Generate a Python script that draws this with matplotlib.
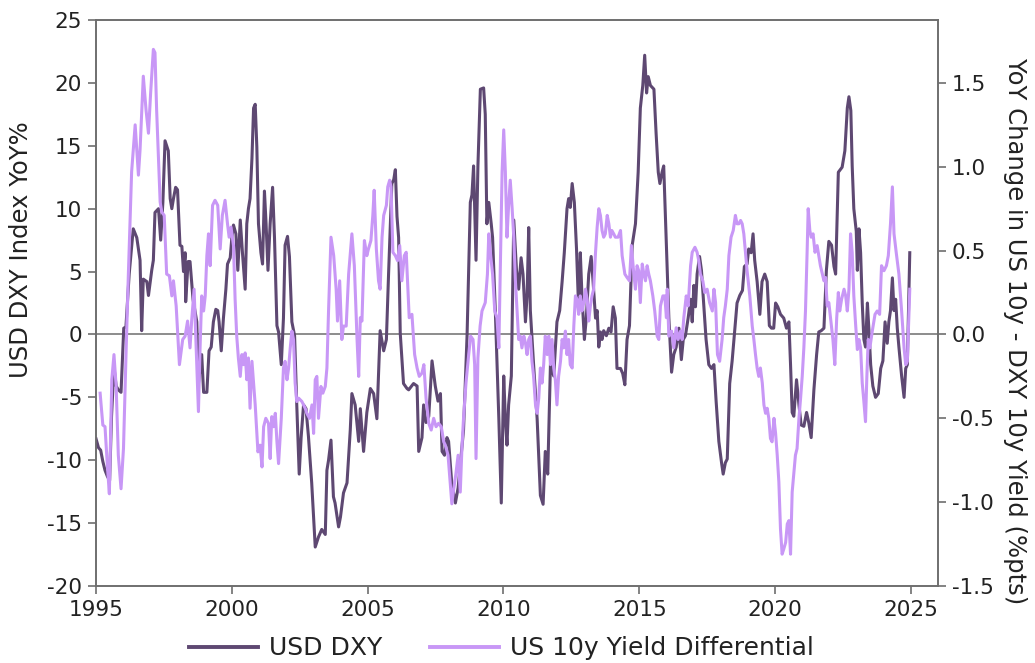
import matplotlib
matplotlib.use("Agg")
import matplotlib.pyplot as plt
import numpy as np

# USD DXY index, year-on-year % change (decimal year, value)
dxy_years = [
    1995.00, 1995.09, 1995.17, 1995.25, 1995.33, 1995.42, 1995.50, 1995.57, 1995.66, 1995.74,
    1995.82, 1995.92, 1996.02, 1996.10, 1996.22, 1996.37, 1996.50, 1996.62, 1996.68, 1996.74,
    1996.87, 1996.93, 1997.05, 1997.11, 1997.17, 1997.30, 1997.38, 1997.46, 1997.54, 1997.66,
    1997.73, 1997.79, 1997.85, 1997.93, 1998.00, 1998.09, 1998.16, 1998.22, 1998.28, 1998.30,
    1998.39, 1998.46, 1998.57, 1998.71, 1998.77, 1998.89, 1998.96, 1999.08, 1999.16, 1999.24,
    1999.32, 1999.41, 1999.48, 1999.53, 1999.61, 1999.69, 1999.78, 1999.84, 1999.94, 2000.00,
    2000.06, 2000.15, 2000.22, 2000.31, 2000.39, 2000.49, 2000.55, 2000.61, 2000.67, 2000.74,
    2000.80, 2000.86, 2000.92, 2000.98, 2001.07, 2001.13, 2001.20, 2001.26, 2001.33, 2001.41,
    2001.50, 2001.57, 2001.66, 2001.72, 2001.82, 2001.90, 2001.96, 2002.05, 2002.12, 2002.21,
    2002.31, 2002.39, 2002.48, 2002.55, 2002.64, 2002.73, 2002.82, 2002.94, 2003.07, 2003.19,
    2003.31, 2003.44, 2003.50, 2003.56, 2003.65, 2003.74, 2003.80, 2003.93, 2004.00, 2004.11,
    2004.24, 2004.36, 2004.42, 2004.54, 2004.67, 2004.73, 2004.85, 2004.97, 2005.10, 2005.22,
    2005.34, 2005.46, 2005.59, 2005.69, 2005.77, 2005.89, 2005.96, 2006.02, 2006.08, 2006.14,
    2006.20, 2006.32, 2006.45, 2006.51, 2006.69, 2006.82, 2006.88, 2007.00, 2007.06, 2007.15,
    2007.25, 2007.37, 2007.49, 2007.59, 2007.68, 2007.74, 2007.83, 2007.92, 2007.98, 2008.10,
    2008.23, 2008.33, 2008.53, 2008.66, 2008.78, 2008.84, 2008.90, 2008.99, 2009.06, 2009.15,
    2009.27, 2009.33, 2009.39, 2009.46, 2009.55, 2009.60, 2009.70, 2009.83, 2009.92, 2010.01,
    2010.07, 2010.13, 2010.19, 2010.29, 2010.38, 2010.48, 2010.56, 2010.65, 2010.72, 2010.81,
    2010.87, 2010.93, 2010.99, 2011.11, 2011.24, 2011.36, 2011.46, 2011.54, 2011.63, 2011.73,
    2011.85, 2011.97, 2012.07, 2012.16, 2012.24, 2012.34, 2012.40, 2012.46, 2012.53, 2012.61,
    2012.69, 2012.77, 2012.83, 2012.89, 2012.98, 2013.05, 2013.14, 2013.23, 2013.30, 2013.39,
    2013.45, 2013.51, 2013.57, 2013.63, 2013.69, 2013.79, 2013.88, 2013.96, 2014.04, 2014.12,
    2014.18, 2014.31, 2014.39, 2014.47, 2014.55, 2014.64, 2014.74, 2014.86, 2014.96, 2015.04,
    2015.13, 2015.20, 2015.27, 2015.33, 2015.41, 2015.54, 2015.62, 2015.70, 2015.76, 2015.84,
    2015.90, 2015.99, 2016.09, 2016.19, 2016.27, 2016.36, 2016.46, 2016.55, 2016.62, 2016.70,
    2016.80, 2016.89, 2016.95, 2017.01, 2017.07, 2017.13, 2017.22, 2017.29, 2017.38, 2017.46,
    2017.56, 2017.66, 2017.75, 2017.83, 2017.93, 2018.03, 2018.09, 2018.17, 2018.24, 2018.33,
    2018.42, 2018.51, 2018.60, 2018.70, 2018.80, 2018.87, 2018.97, 2019.03, 2019.12, 2019.19,
    2019.25, 2019.34, 2019.44, 2019.52, 2019.62, 2019.71, 2019.79, 2019.87, 2019.95, 2020.02,
    2020.10, 2020.20, 2020.32, 2020.42, 2020.51, 2020.57, 2020.63, 2020.69, 2020.79, 2020.88,
    2020.96, 2021.06, 2021.16, 2021.24, 2021.33, 2021.43, 2021.53, 2021.61, 2021.70, 2021.80,
    2021.89, 2021.98, 2022.08, 2022.17, 2022.23, 2022.33, 2022.47, 2022.57, 2022.66, 2022.72,
    2022.79, 2022.84, 2022.90, 2022.99, 2023.03, 2023.09, 2023.15, 2023.21, 2023.27, 2023.33,
    2023.40, 2023.46, 2023.52, 2023.60, 2023.70, 2023.80, 2023.89, 2023.97, 2024.05, 2024.13,
    2024.19, 2024.25, 2024.32, 2024.38, 2024.44, 2024.50, 2024.56, 2024.66, 2024.75, 2024.81,
    2024.87, 2024.96,
]
dxy_yoy = [
    -8.3, -9.0, -9.2, -10.1, -10.8, -11.3, -11.6, -6.5, -2.6, -4.1,
    -4.4, -4.6, 0.5, 0.6, 4.8, 8.4, 7.7, 5.9, 0.3, 4.4,
    4.2, 3.1, 5.1, 5.9, 9.7, 10.0, 7.5, 10.5, 15.4, 14.6,
    10.8, 10.0, 10.8, 11.7, 11.5, 7.1, 7.0, 5.0, 6.5, 2.6,
    5.8, 5.8, 2.8, 1.0, -3.9, -1.6, -4.6, -4.6, -1.3, -1.0,
    1.0, 2.0, 1.9, 1.0, -1.3, 1.3, 3.6, 5.6, 6.1, 7.7,
    8.7, 8.0, 5.1, 9.1, 6.5, 3.6, 8.8, 10.0, 10.8, 14.0,
    18.0, 18.3, 14.9, 8.8, 6.5, 5.6, 11.4, 8.8, 5.1, 8.8,
    11.7, 7.7, 0.7, 0.2, -2.4, 1.3, 7.1, 7.8, 6.2, 1.0,
    -0.1, -5.6, -11.1, -8.2, -5.6, -5.9, -8.1, -11.8, -16.9, -16.1,
    -15.5, -15.9, -10.8, -10.0, -8.4, -12.9, -13.4, -15.3, -14.5, -12.6,
    -11.8, -7.6, -4.7, -5.6, -8.5, -5.9, -9.3, -6.2, -4.3, -4.7,
    -6.7, 0.3, -1.3, -0.4, 4.8, 12.0, 12.3, 13.1, 9.4, 7.7,
    0.1, -3.9, -4.3, -4.4, -3.9, -4.1, -9.3, -8.2, -5.6, -7.0,
    -6.5, -2.1, -4.1, -5.3, -4.7, -9.3, -9.6, -8.2, -8.5, -11.9,
    -13.4, -12.2, -7.6, -0.1, 10.5, 11.1, 13.4, 5.9, 13.4, 19.5,
    19.6, 17.5, 8.8, 10.5, 8.8, 7.7, 1.9, -6.7, -13.4, -3.3,
    -6.7, -8.8, -5.6, -3.3, 9.1, 5.1, 3.6, 6.1, 4.8, 1.0,
    3.1, 8.5, 1.9, -2.4, -6.7, -12.8, -13.5, -9.3, -11.1, -2.4,
    -3.3, 1.0, 1.9, 4.2, 6.5, 10.0, 10.8, 10.1, 12.0, 10.5,
    6.8, 1.9, 6.5, 3.1, -0.4, 1.3, 4.8, 6.2, 4.2, 1.3,
    1.9, -1.0, 0.2, -0.4, 0.3, -0.1, 0.5, 0.2, 2.2, 1.3,
    -2.7, -2.7, -3.1, -4.0, -0.4, 0.7, 7.1, 8.8, 12.9, 18.0,
    19.8, 22.2, 19.2, 20.5, 19.8, 19.5, 16.0, 12.9, 12.0, 12.9,
    13.4, 7.7, 1.3, -3.0, -1.6, -1.0, 0.5, -2.0, -0.4, -0.1,
    1.3, 2.8, 1.0, 3.9, 2.2, 4.8, 6.2, 5.1, 2.2, -0.4,
    -2.4, -2.7, -2.4, -5.3, -8.5, -10.2, -11.1, -10.2, -9.9, -3.9,
    -2.1, 0.2, 2.5, 3.1, 3.5, 5.4, 5.6, 6.8, 6.5, 8.0,
    5.9, 4.2, 1.6, 4.2, 4.8, 4.2, 0.7, 0.5, 0.5, 2.5,
    2.2, 1.6, 1.3, 0.5, 1.0, -2.4, -6.2, -6.5, -3.6, -5.6,
    -7.2, -7.3, -6.2, -7.0, -8.2, -4.4, -1.6, 0.2, 0.3, 0.5,
    5.1, 7.4, 7.1, 5.4, 4.8, 12.9, 13.3, 14.6, 18.0, 18.9,
    17.8, 13.4, 10.0, 8.2, 5.1, 8.4, 6.5, 2.5, -0.4, -1.0,
    2.5, 0.2, -2.4, -4.1, -5.0, -4.7, -2.7, -2.1, 1.0, -0.7,
    1.0, 1.9, 4.5, 1.9, 2.8, 0.5, -1.0, -3.3, -5.0, -2.7,
    -2.4, 6.5,
]

# US 10y minus DXY-weighted 10y yield, year-on-year change (%pts)
diff_years = [
    1995.15, 1995.25, 1995.33, 1995.42, 1995.49, 1995.58, 1995.66, 1995.74, 1995.82, 1995.92,
    1996.01, 1996.11, 1996.19, 1996.31, 1996.44, 1996.56, 1996.62, 1996.74, 1996.84, 1996.93,
    1997.01, 1997.11, 1997.17, 1997.23, 1997.36, 1997.42, 1997.51, 1997.60, 1997.70, 1997.79,
    1997.85, 1997.95, 1998.07, 1998.19, 1998.28, 1998.37, 1998.46, 1998.52, 1998.61, 1998.71,
    1998.77, 1998.83, 1998.89, 1998.96, 1999.02, 1999.08, 1999.14, 1999.20, 1999.29, 1999.38,
    1999.48, 1999.57, 1999.65, 1999.75, 1999.84, 1999.90, 1999.97, 2000.06, 2000.12, 2000.18,
    2000.24, 2000.31, 2000.37, 2000.43, 2000.49, 2000.55, 2000.61, 2000.67, 2000.74, 2000.80,
    2000.86, 2000.96, 2001.04, 2001.11, 2001.17, 2001.25, 2001.35, 2001.41, 2001.47, 2001.53,
    2001.60, 2001.66, 2001.72, 2001.82, 2001.90, 2001.96, 2002.03, 2002.09, 2002.15, 2002.21,
    2002.27, 2002.33, 2002.39, 2002.46, 2002.58, 2002.70, 2002.76, 2002.86, 2002.95, 2003.01,
    2003.07, 2003.13, 2003.19, 2003.28, 2003.35, 2003.44, 2003.50, 2003.56, 2003.65, 2003.75,
    2003.84, 2003.89, 2003.97, 2004.05, 2004.11, 2004.21, 2004.30, 2004.42, 2004.51, 2004.61,
    2004.67, 2004.73, 2004.79, 2004.88, 2004.97, 2005.03, 2005.12, 2005.19, 2005.24, 2005.32,
    2005.40, 2005.46, 2005.53, 2005.59, 2005.69, 2005.74, 2005.81, 2005.86, 2005.93, 2006.02,
    2006.10, 2006.18, 2006.26, 2006.35, 2006.42, 2006.53, 2006.63, 2006.73, 2006.82, 2006.90,
    2007.00, 2007.07, 2007.15, 2007.25, 2007.34, 2007.43, 2007.52, 2007.61, 2007.71, 2007.80,
    2007.86, 2007.96, 2008.04, 2008.10, 2008.17, 2008.25, 2008.33, 2008.41, 2008.47, 2008.53,
    2008.62, 2008.72, 2008.79, 2008.88, 2008.94, 2008.99, 2009.06, 2009.14, 2009.21, 2009.28,
    2009.33, 2009.41, 2009.46, 2009.53, 2009.60, 2009.68, 2009.76, 2009.83, 2009.90, 2009.95,
    2010.01, 2010.07, 2010.13, 2010.19, 2010.25, 2010.32, 2010.38, 2010.44, 2010.50, 2010.56,
    2010.62, 2010.68, 2010.75, 2010.81, 2010.87, 2010.93, 2010.99, 2011.05, 2011.11, 2011.18,
    2011.24, 2011.30, 2011.36, 2011.42, 2011.48, 2011.54, 2011.61, 2011.67, 2011.73, 2011.79,
    2011.85, 2011.91, 2011.97, 2012.03, 2012.10, 2012.16, 2012.22, 2012.28, 2012.34, 2012.40,
    2012.46, 2012.53, 2012.59, 2012.65, 2012.71, 2012.77, 2012.83, 2012.89, 2012.96, 2013.02,
    2013.08, 2013.14, 2013.20, 2013.26, 2013.32, 2013.39, 2013.45, 2013.51, 2013.57, 2013.63,
    2013.69, 2013.75, 2013.82, 2013.88, 2013.94, 2013.99, 2014.06, 2014.12, 2014.22, 2014.31,
    2014.37, 2014.47, 2014.55, 2014.64, 2014.71, 2014.80, 2014.86, 2014.92, 2014.98, 2015.04,
    2015.11, 2015.17, 2015.23, 2015.29, 2015.35, 2015.41, 2015.50, 2015.57, 2015.66, 2015.72,
    2015.78, 2015.87, 2015.94, 2016.00, 2016.03, 2016.09, 2016.19, 2016.27, 2016.36, 2016.43,
    2016.52, 2016.58, 2016.64, 2016.73, 2016.80, 2016.89, 2016.95, 2017.05, 2017.13, 2017.19,
    2017.25, 2017.34, 2017.41, 2017.50, 2017.59, 2017.69, 2017.75, 2017.81, 2017.88, 2017.96,
    2018.05, 2018.11, 2018.17, 2018.24, 2018.30, 2018.38, 2018.46, 2018.54, 2018.60, 2018.67,
    2018.73, 2018.79, 2018.85, 2018.91, 2018.97, 2019.07, 2019.16, 2019.22, 2019.28, 2019.34,
    2019.40, 2019.46, 2019.53, 2019.59, 2019.65, 2019.71, 2019.77, 2019.83, 2019.89, 2019.96,
    2020.02, 2020.08, 2020.14, 2020.20, 2020.26, 2020.32, 2020.39, 2020.45, 2020.51, 2020.57,
    2020.63, 2020.69, 2020.75, 2020.81, 2020.88, 2020.94, 2021.00, 2021.06, 2021.12, 2021.18,
    2021.22, 2021.28, 2021.33, 2021.40, 2021.47, 2021.55, 2021.61, 2021.67, 2021.74, 2021.80,
    2021.86, 2021.92, 2021.98, 2022.04, 2022.13, 2022.20, 2022.27, 2022.33, 2022.38, 2022.45,
    2022.54, 2022.60, 2022.66, 2022.72, 2022.78, 2022.84, 2022.90, 2022.97, 2023.03, 2023.09,
    2023.15, 2023.21, 2023.27, 2023.33, 2023.38, 2023.43, 2023.49, 2023.58, 2023.68, 2023.76,
    2023.85, 2023.92, 2024.01, 2024.10, 2024.17, 2024.25, 2024.32, 2024.38, 2024.46, 2024.56,
    2024.66, 2024.75, 2024.81, 2024.87, 2024.96,
]
diff_pts = [
    -0.35, -0.54, -0.55, -0.79, -0.95, -0.27, -0.12, -0.31, -0.72, -0.92,
    -0.68, -0.08, 0.36, 0.97, 1.25, 0.95, 1.10, 1.54, 1.34, 1.20,
    1.44, 1.70, 1.68, 1.34, 0.79, 0.73, 0.71, 0.36, 0.35, 0.23,
    0.32, 0.17, -0.18, -0.03, -0.01, 0.08, -0.08, 0.08, 0.27, -0.18,
    -0.46, -0.08, 0.23, 0.14, 0.23, 0.47, 0.60, 0.41, 0.77, 0.80,
    0.77, 0.51, 0.71, 0.80, 0.66, 0.58, 0.64, 0.53, 0.21, -0.01,
    -0.14, -0.25, -0.12, -0.18, -0.11, -0.27, -0.14, -0.44, -0.16, -0.29,
    -0.42, -0.70, -0.66, -0.79, -0.55, -0.50, -0.53, -0.74, -0.49, -0.55,
    -0.47, -0.64, -0.77, -0.50, -0.20, -0.16, -0.27, -0.20, -0.08, 0.02,
    -0.03, -0.29, -0.40, -0.38, -0.40, -0.44, -0.47, -0.50, -0.42, -0.59,
    -0.27, -0.25, -0.50, -0.31, -0.35, -0.31, -0.20, 0.14, 0.58, 0.47,
    0.27, 0.08, 0.32, -0.03, 0.05, 0.05, 0.36, 0.60, 0.41, -0.03,
    -0.25, 0.10, 0.08, 0.56, 0.47, 0.51, 0.56, 0.71, 0.86, 0.51,
    0.32, 0.27, 0.58, 0.71, 0.77, 0.88, 0.92, 0.88, 0.49, 0.47,
    0.44, 0.53, 0.32, 0.47, 0.49, 0.10, 0.12, -0.12, -0.20, -0.25,
    -0.23, -0.18, -0.38, -0.53, -0.57, -0.50, -0.55, -0.53, -0.55, -0.64,
    -0.66, -0.72, -0.89, -1.01, -0.92, -0.83, -0.72, -0.94, -0.68, -0.50,
    -0.29, -0.12, -0.01, -0.03, -0.18, -0.74, -0.14, 0.05, 0.14, 0.17,
    0.19, 0.36, 0.60, 0.47, 0.36, 0.14, 0.10, -0.08, 0.53, 0.97,
    1.22, 0.97, 0.58, 0.77, 0.92, 0.75, 0.58, 0.32, 0.14, -0.03,
    -0.01, -0.08, -0.01, -0.05, -0.12, -0.03, -0.01, -0.16, -0.25, -0.42,
    -0.47, -0.38, -0.20, -0.29, -0.18, -0.01, -0.12, -0.01, -0.18, -0.03,
    -0.20, -0.27, -0.42, -0.25, -0.16, -0.03, -0.08, 0.02, -0.12, -0.03,
    -0.18, -0.20, 0.05, 0.23, 0.21, 0.12, 0.23, 0.14, 0.19, 0.27,
    0.21, 0.08, 0.17, 0.23, 0.27, 0.49, 0.64, 0.75, 0.71, 0.62,
    0.58, 0.60, 0.71, 0.66, 0.58, 0.62, 0.60, 0.58, 0.58, 0.62,
    0.47, 0.36, 0.34, 0.32, 0.53, 0.36, 0.27, 0.41, 0.38, 0.19,
    0.42, 0.36, 0.32, 0.41, 0.36, 0.32, 0.23, 0.14, -0.01, -0.03,
    0.17, 0.23, 0.23, 0.10, 0.27, -0.01, 0.02, -0.08, 0.04, -0.03,
    0.02, -0.03, 0.10, 0.23, 0.17, 0.41, 0.49, 0.52, 0.49, 0.44,
    0.36, 0.32, 0.25, 0.27, 0.19, 0.14, 0.27, 0.19, -0.12, -0.16,
    -0.03, 0.10, 0.17, 0.27, 0.47, 0.58, 0.62, 0.71, 0.66, 0.66,
    0.68, 0.66, 0.60, 0.49, 0.38, 0.23, 0.05, -0.03, -0.12, -0.20,
    -0.25, -0.20, -0.29, -0.42, -0.47, -0.44, -0.50, -0.62, -0.64, -0.50,
    -0.59, -0.72, -0.88, -1.16, -1.31, -1.28, -1.24, -1.13, -1.11, -1.31,
    -0.94, -0.83, -0.72, -0.68, -0.50, -0.38, -0.25, -0.08, 0.14, 0.49,
    0.75, 0.62, 0.58, 0.60, 0.49, 0.53, 0.47, 0.41, 0.36, 0.32,
    0.34, 0.17, 0.19, 0.10, -0.03, -0.18, 0.10, 0.25, 0.14, 0.21,
    0.27, 0.23, 0.14, 0.27, 0.60, 0.49, 0.23, 0.05, -0.09, -0.03,
    -0.08, -0.29, -0.40, -0.52, -0.25, -0.03, -0.08, 0.02, 0.12, 0.14,
    0.12, 0.41, 0.38, 0.41, 0.47, 0.66, 0.88, 0.60, 0.49, 0.36,
    0.14, -0.08, -0.18, -0.16, 0.27,
]

year_ticks = [1995, 2000, 2005, 2010, 2015, 2020, 2025]
left_ticks = [-20, -15, -10, -5, 0, 5, 10, 15, 20, 25]
right_ticks = [-1.5, -1.0, -0.5, 0.0, 0.5, 1.0, 1.5]

DARK = "#5E4872"
LIGHT = "#C897F6"
AXIS_GREY = "#6E6E6E"
TEXT = "#222222"

plt.rcParams["font.family"] = ["DejaVu Sans"]

fig = plt.figure(figsize=(10.35, 6.63), dpi=100)
ax = fig.add_axes([0.0928, 0.1161, 0.8135, 0.8537])
ax2 = ax.twinx()

ax.axhline(0, color="#8C8C8C", lw=1.4, zorder=1)
l1, = ax.plot(dxy_years, dxy_yoy, color=DARK, lw=2.2, zorder=3,
              label="USD DXY")
l2, = ax2.plot(diff_years, diff_pts, color=LIGHT, lw=2.2, zorder=3,
               label="US 10y Yield Differential")

# Left axis -20..25, right axis scaled so that both zero lines coincide
ax.set_ylim(-20, 25)
ax2.set_ylim(-1.5, 25 * 1.5 / 20)
ax.set_xlim(1995, 2026)

ax.set_xticks(year_ticks)
ax.set_xticklabels([str(y) for y in year_ticks])
ax.set_yticks(left_ticks)
ax.set_yticklabels([str(v) for v in left_ticks])
ax2.set_yticks(right_ticks)
ax2.set_yticklabels([f"{v:.1f}" for v in right_ticks])

for a in (ax, ax2):
    for s in a.spines.values():
        s.set_color(AXIS_GREY)
        s.set_linewidth(1.2)
    a.tick_params(direction="out", length=6, width=1.2, color=AXIS_GREY,
                  labelsize=15.5, labelcolor=TEXT, pad=4)

ax.set_ylabel("USD DXY Index YoY%", fontsize=17.5, color=TEXT, va="center")
ax.yaxis.set_label_coords(-0.089, 0.594)
ax2.set_ylabel("YoY Change in US 10y - DXY 10y Yield (%pts)", fontsize=17.5,
               color=TEXT, rotation=270, va="center")
ax2.yaxis.set_label_coords(1.091, 0.45)

fig.legend(handles=[l1, l2], loc="center", ncol=2, frameon=False,
           fontsize=18, bbox_to_anchor=(0.4845, 0.022), handlelength=2.75,
           columnspacing=1.9, handletextpad=0.45)
for h in fig.legends[0].get_lines():
    h.set_linewidth(2.8)
for t in fig.legends[0].get_texts():
    t.set_color(TEXT)

fig.savefig("out.png", dpi=100, facecolor="white")
